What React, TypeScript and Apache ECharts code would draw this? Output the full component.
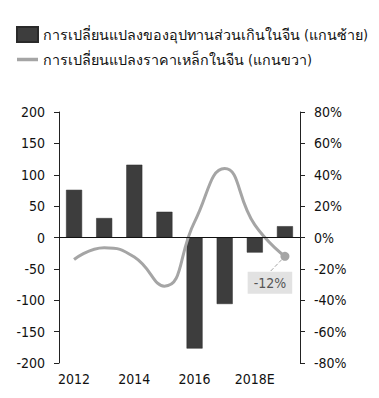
import React, { useEffect, useRef } from "react";
import * as echarts from "echarts";

const categories = ["2012", "2013", "2014", "2015", "2016", "2017", "2018E", "2019E"];
const surplusChange = [76, 31, 116, 41, -177, -106, -24, 18];
const steelPriceChange = [-14, -6.5, -12.5, -31, 10, 44, 8, -12];
const barName = "การเปลี่ยนแปลงของอุปทานส่วนเกินในจีน (แกนซ้าย)";
const lineName = "การเปลี่ยนแปลงราคาเหล็กในจีน (แกนขวา)";

const FONT = 'Tahoma, "DejaVu Sans Condensed", "DejaVu Sans", sans-serif';

export default function App() {
  const ref = useRef<HTMLDivElement>(null);
  useEffect(() => {
    if (!ref.current) return;
    const chart = echarts.init(ref.current, null, { renderer: "svg" });
    const last = steelPriceChange.length - 1;
    chart.setOption({
      animation: false,
      textStyle: { fontFamily: FONT },
      legend: {
        orient: "vertical",
        left: 11,
        top: 21,
        itemGap: 9.5,
        itemWidth: 21,
        itemHeight: 15,
        textStyle: { fontSize: 14.3, color: "#111", fontFamily: FONT },
        data: [
          { name: barName, icon: "rect" },
          { name: lineName, icon: "path://M0,0H21V3.5H0Z", itemStyle: { color: "#a5a5a5" } },
        ],
      },
      grid: { left: 59, right: 79, top: 112, bottom: 35 },
      xAxis: {
        type: "category",
        data: categories,
        axisLine: { show: false },
        axisTick: { show: false },
        axisLabel: { interval: 1, fontSize: 14, color: "#111", margin: 9, fontFamily: FONT },
      },
      yAxis: [
        {
          type: "value",
          min: -200,
          max: 200,
          interval: 50,
          splitLine: { show: false },
          axisLine: { show: true, lineStyle: { color: "#222" } },
          axisTick: { show: true, length: 5, lineStyle: { color: "#222" } },
          axisLabel: { fontSize: 14, color: "#111", margin: 14, fontFamily: FONT },
        },
        {
          type: "value",
          min: -80,
          max: 80,
          interval: 20,
          position: "right",
          splitLine: { show: false },
          axisLine: { show: true, lineStyle: { color: "#222" } },
          axisTick: { show: true, length: 5, lineStyle: { color: "#222" } },
          axisLabel: { fontSize: 14, color: "#111", margin: 14, formatter: "{value}%", fontFamily: FONT },
        },
      ],
      series: [
        {
          name: barName,
          type: "bar",
          data: surplusChange,
          barWidth: 16,
          itemStyle: { color: "#3d3d3d", borderColor: "#2a2a2a", borderWidth: 0.5 },
          markLine: {
            silent: true,
            symbol: "none",
            label: { show: false },
            lineStyle: { color: "#111", width: 1, type: "solid" },
            data: [{ yAxis: 0 }],
          },
          z: 2,
        },
        {
          name: lineName,
          type: "line",
          yAxisIndex: 1,
          smooth: 0.5,
          symbol: "none",
          lineStyle: { color: "#a5a5a5", width: 3 },
          itemStyle: { color: "#a5a5a5" },
          data: steelPriceChange.map((v, i) =>
            i === last
              ? {
                  value: v,
                  symbol: "circle",
                  symbolSize: 9,
                  label: {
                    show: true,
                    position: "bottom",
                    distance: 5,
                    formatter: (p: any) => `${p.value}%`,
                    fontSize: 14,
                    color: "#555",
                    backgroundColor: "#e2e2e2",
                    padding: [4, 6],
                    fontFamily: FONT,
                  },
                  labelLine: { show: true, lineStyle: { color: "#a5a5a5", type: "dashed", width: 1 } },
                }
              : v
          ),
          labelLayout: (p: any) => (p.dataIndex === last ? { dx: -15, dy: 6 } : {}),
          labelLine: { show: true, lineStyle: { color: "#a5a5a5", type: "dashed", width: 1 } },
          z: 3,
        },
      ],
    });
    return () => chart.dispose();
  }, []);
  return <div ref={ref} style={{ width: 379, height: 398, position: "absolute", left: 0, top: 0 }} />;
}
